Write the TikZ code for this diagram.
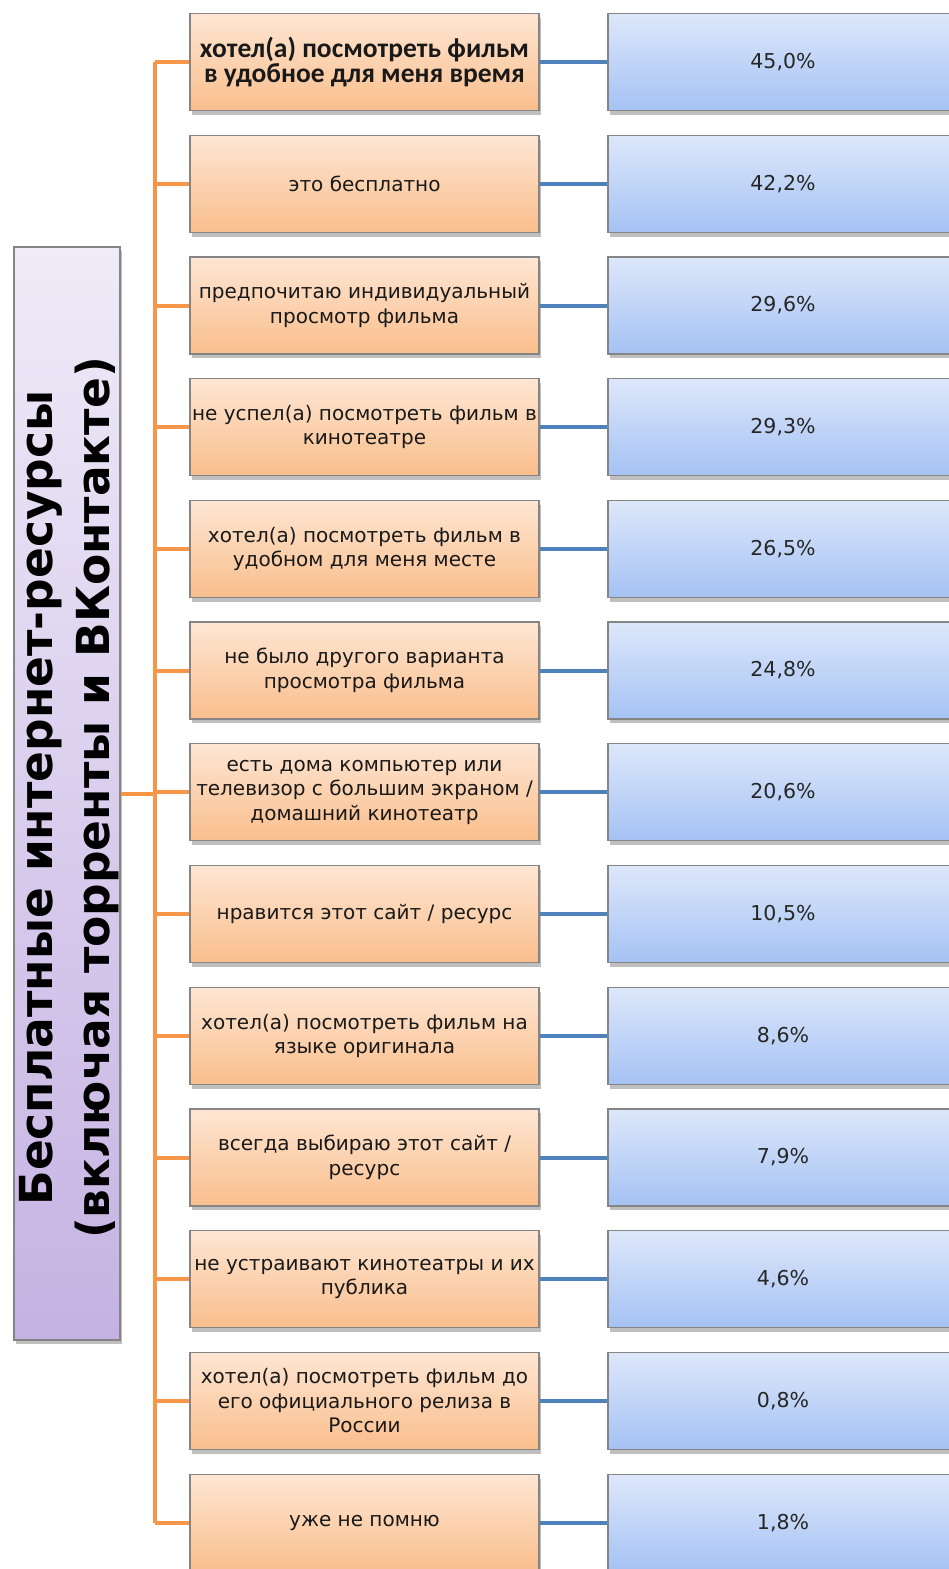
\documentclass[tikz,border=0pt]{standalone}
\usepackage{fontspec}
\setmainfont{DejaVu Sans}
\newfontfamily\calfont[BoldFont={Carlito Bold}]{Carlito}
\usetikzlibrary{shadows}
\definecolor{orline}{HTML}{F79646}
\definecolor{blline}{HTML}{4F81BD}
\definecolor{ortop}{HTML}{FEE6D3}
\definecolor{orbot}{HTML}{F9BE8C}
\definecolor{bltop}{HTML}{DDE7FA}
\definecolor{blbot}{HTML}{A5C2F4}
\definecolor{putop}{HTML}{EFEBF8}
\definecolor{pubot}{HTML}{C5B2E3}
\definecolor{edge}{HTML}{858585}
\tikzset{
  boxbase/.style={draw=edge, line width=1.2pt, inner sep=0pt, minimum width=349pt, minimum height=97pt,
    align=center, drop shadow={shadow xshift=2pt, shadow yshift=-4pt, opacity=0.25, fill=black}},
  orbox/.style={boxbase, top color=ortop, bottom color=orbot, font=\fontsize{20}{24.5}\selectfont, text=black!90},
  blbox/.style={boxbase, top color=bltop, bottom color=blbot, minimum width=350pt, font=\fontsize{20.5}{24.5}\selectfont, text=black!85},
  orcon/.style={draw=orline, line width=4pt},
  blcon/.style={draw=blline, line width=4pt},
}
\begin{document}
\begin{tikzpicture}[x=1pt,y=-1pt]
\useasboundingbox (0,0) rectangle (948,1569);
\fill[white] (0,0) rectangle (948,1569);
% left box
\node[draw=edge, line width=1.2pt, inner sep=0pt, minimum width=106pt, minimum height=1093pt,
  top color=putop, bottom color=pubot,
  drop shadow={shadow xshift=2pt, shadow yshift=-4pt, opacity=0.25, fill=black}] (left) at (67,793.5) {};
\node[rotate=90, align=center, inner sep=0pt, font=\bfseries\fontsize{45.5}{57}\selectfont] (lefttext) at (69,798)
  {Бесплатные интернет-ресурсы\\(включая торренты и ВКонтакте)};
% bus
\coordinate (bustop) at (155,62);
\coordinate (busbot) at (155,1523);
% boxes
\node[orbox, font=\calfont\bfseries\fontsize{27.5}{25}\selectfont] (o1) at (364.5,62) {хотел(а) посмотреть фильм\\в удобное для меня время};
\node[orbox] (o2) at (364.5,184) {это бесплатно};
\node[orbox] (o3) at (364.5,305.5) {предпочитаю индивидуальный\\просмотр фильма};
\node[orbox] (o4) at (364.5,427) {не успел(а) посмотреть фильм в\\кинотеатре};
\node[orbox] (o5) at (364.5,549) {хотел(а) посмотреть фильм в\\удобном для меня месте};
\node[orbox] (o6) at (364.5,670.5) {не было другого варианта\\просмотра фильма};
\node[orbox] (o7) at (364.5,792) {есть дома компьютер или\\телевизор с большим экраном /\\домашний кинотеатр};
\node[orbox] (o8) at (364.5,914) {нравится этот сайт / ресурс};
\node[orbox] (o9) at (364.5,1036) {хотел(а) посмотреть фильм на\\языке оригинала};
\node[orbox] (o10) at (364.5,1157.5) {всегда выбираю этот сайт /\\ресурс};
\node[orbox] (o11) at (364.5,1279) {не устраивают кинотеатры и их\\публика};
\node[orbox] (o12) at (364.5,1401) {хотел(а) посмотреть фильм до\\его официального релиза в\\России};
\node[orbox] (o13) at (364.5,1523) {уже не помню};
\node[blbox] (b1) at (783,62) {45,0\%};
\node[blbox] (b2) at (783,184) {42,2\%};
\node[blbox] (b3) at (783,305.5) {29,6\%};
\node[blbox] (b4) at (783,427) {29,3\%};
\node[blbox] (b5) at (783,549) {26,5\%};
\node[blbox] (b6) at (783,670.5) {24,8\%};
\node[blbox] (b7) at (783,792) {20,6\%};
\node[blbox] (b8) at (783,914) {10,5\%};
\node[blbox] (b9) at (783,1036) {8,6\%};
\node[blbox] (b10) at (783,1157.5) {7,9\%};
\node[blbox] (b11) at (783,1279) {4,6\%};
\node[blbox] (b12) at (783,1401) {0,8\%};
\node[blbox] (b13) at (783,1523) {1,8\%};
% connectors
\draw[orcon] (bustop) -- (busbot);
\foreach \i in {1,...,13} {
  \draw[orcon] (o\i.west) -- (o\i.west -| bustop);
  \draw[blcon] (o\i.east) -- (b\i.west);
}
\draw[orcon] (left.east) -- (left.east -| bustop);
\end{tikzpicture}
\end{document}
